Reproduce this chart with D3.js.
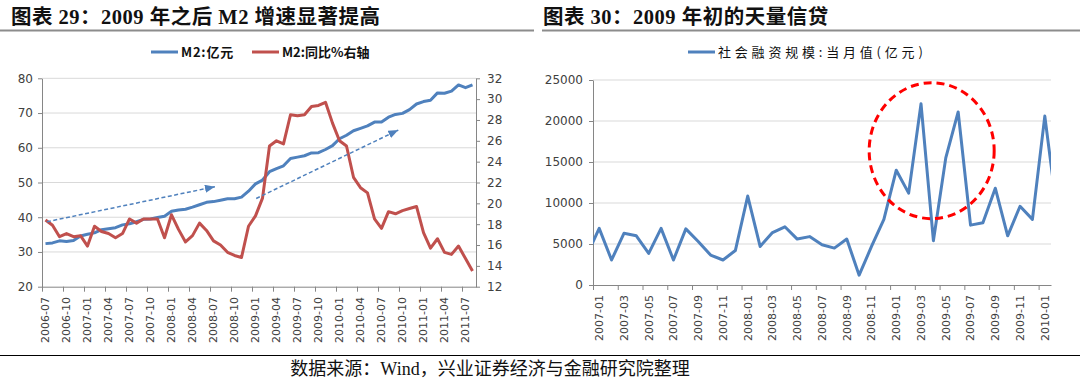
<!DOCTYPE html>
<html><head><meta charset="utf-8">
<script src="https://cdn.jsdelivr.net/npm/d3@7"></script>
<style>
html,body{margin:0;padding:0;background:#fff;}
svg{display:block;}
</style></head>
<body>
<svg id="c" width="1080" height="381"></svg>
<script>
// ---------------- DATA ----------------
const m2Months = ["2006-07","2006-08","2006-09","2006-10","2006-11","2006-12",
"2007-01","2007-02","2007-03","2007-04","2007-05","2007-06","2007-07","2007-08","2007-09","2007-10","2007-11","2007-12",
"2008-01","2008-02","2008-03","2008-04","2008-05","2008-06","2008-07","2008-08","2008-09","2008-10","2008-11","2008-12",
"2009-01","2009-02","2009-03","2009-04","2009-05","2009-06","2009-07","2009-08","2009-09","2009-10","2009-11","2009-12",
"2010-01","2010-02","2010-03","2010-04","2010-05","2010-06","2010-07","2010-08","2010-09","2010-10","2010-11","2010-12",
"2011-01","2011-02","2011-03","2011-04","2011-05","2011-06","2011-07","2011-08"];
const m2Level = [32.4,32.6,33.2,33.0,33.3,34.6,
35.1,35.5,36.4,36.7,37.0,37.8,38.1,38.7,39.4,39.5,39.9,40.3,
41.7,42.1,42.3,42.9,43.6,44.3,44.5,44.9,45.3,45.3,45.8,47.5,
49.6,50.7,53.1,54.0,54.8,56.9,57.3,57.7,58.5,58.6,59.5,60.6,
62.6,63.6,64.9,65.6,66.3,67.4,67.4,68.8,69.6,69.9,71.0,72.6,
73.3,73.7,75.8,75.7,76.3,78.1,77.3,78.1];
const m2Yoy = [18.4,17.9,16.8,17.1,16.8,16.9,
15.9,17.8,17.3,17.1,16.7,17.1,18.5,18.1,18.5,18.5,18.5,16.7,
18.9,17.5,16.3,16.9,18.1,17.4,16.4,16.0,15.3,15.0,14.8,17.8,
18.8,20.5,25.5,26.0,25.7,28.5,28.4,28.5,29.3,29.4,29.7,27.7,
26.0,25.5,22.5,21.5,21.0,18.5,17.6,19.2,19.0,19.3,19.5,19.7,
17.2,15.7,16.6,15.3,15.1,15.9,14.7,13.5];
const m2LeftTicks = [20,30,40,50,60,70,80];
const m2RightTicks = [12,14,16,18,20,22,24,26,28,30,32];
const m2LabelMonths = ["2006-07","2006-10","2007-01","2007-04","2007-07","2007-10","2008-01","2008-04","2008-07","2008-10",
"2009-01","2009-04","2009-07","2009-10","2010-01","2010-04","2010-07","2010-10","2011-01","2011-04","2011-07"];
// trend arrows: [month index, left-axis value]
const m2Arrows = [{from:[0.2,38.7], to:[24.2,48.8]}, {from:[30.1,45.4], to:[50.4,65.1]}];

const tsfMonths = ["2006-12",
"2007-01","2007-02","2007-03","2007-04","2007-05","2007-06","2007-07","2007-08","2007-09","2007-10","2007-11","2007-12",
"2008-01","2008-02","2008-03","2008-04","2008-05","2008-06","2008-07","2008-08","2008-09","2008-10","2008-11","2008-12",
"2009-01","2009-02","2009-03","2009-04","2009-05","2009-06","2009-07","2009-08","2009-09","2009-10","2009-11","2009-12",
"2010-01","2010-02"];
const tsfValues = [3600,
6900,3050,6300,6000,3850,6900,3050,6850,5300,3650,3050,4200,
10850,4700,6400,7100,5600,5900,4900,4500,5600,1200,4700,8000,
14000,11200,22100,5400,15500,21100,7300,7600,11800,6000,9600,8000,
20600,8800];
const tsfTicks = [0,5000,10000,15000,20000,25000];
const tsfLabelMonths = ["2007-01","2007-03","2007-05","2007-07","2007-09","2007-11","2008-01","2008-03","2008-05","2008-07",
"2008-09","2008-11","2009-01","2009-03","2009-05","2009-07","2009-09","2009-11","2010-01"];
// highlight ellipse: centre [month index, value], radius [months, value]
const tsfHighlight = {center:[27.86,16380], radius:[5.05,8290]};

const titleLeft = "图表 29：2009 年之后 M2 增速显著提高";
const titleRight = "图表 30：2009 年初的天量信贷";
const legendLeft = ["M2:亿元","M2:同比%右轴"];
const legendRight = ["社会融资规模:当月值(亿元)"];
const sourceText = "数据来源：Wind，兴业证券经济与金融研究院整理";

// ---------------- STYLE ----------------
const BLUE = "#4F81BD", RED = "#C0504D", GRID = "#D9D9D9", AXIS = "#868686", TXT = "#404040";
const tickFont = "'DejaVu Sans', Verdana, sans-serif";
const cjkFont = "'Liberation Serif','Noto Sans CJK SC',serif";

const svg = d3.select("#c");
const defs = svg.append("defs");

// titles and rules
function title(x, txt){
  svg.append("text").attr("x", x).attr("y", 24).text(txt)
    .attr("font-family", cjkFont).attr("font-size", 20.5).attr("font-weight", "bold").attr("fill", "#111")
    .attr("letter-spacing", 0.5);
}
title(11, titleLeft);
title(543, titleRight);
svg.append("line").attr("x1",0).attr("x2",534).attr("y1",30.5).attr("y2",30.5).attr("stroke","#8c8c8c").attr("stroke-width",2);
svg.append("line").attr("x1",542).attr("x2",1080).attr("y1",30.5).attr("y2",30.5).attr("stroke","#8c8c8c").attr("stroke-width",2);
svg.append("line").attr("x1",0).attr("x2",1080).attr("y1",355.5).attr("y2",355.5).attr("stroke","#000").attr("stroke-width",1);
svg.append("text").attr("x", 490).attr("y", 375).attr("text-anchor","middle").text(sourceText)
  .attr("font-family", cjkFont).attr("font-size", 18).attr("fill", "#111");

function styleAxis(g){
  g.select(".domain").attr("stroke", AXIS);
  g.selectAll(".tick line").attr("stroke", AXIS);
  g.selectAll(".tick text").attr("fill", TXT).attr("font-family", tickFont).attr("font-size", 11);
}

function legendItem(x, y, color, label, bold, spacing){
  svg.append("line").attr("x1", x).attr("x2", x+27).attr("y1", y).attr("y2", y)
     .attr("stroke", color).attr("stroke-width", 3);
  svg.append("text").attr("x", x+30).attr("y", y+4.5).text(label)
     .attr("font-family", "'Noto Sans CJK SC',sans-serif").attr("font-size", 13)
     .attr("font-weight", bold ? "bold" : "normal").attr("fill", "#111").attr("letter-spacing", spacing);
}

// ---------------- LEFT CHART ----------------
{
  const x = d3.scaleLinear().domain([-0.5, m2Months.length - 0.5]).range([42, 476]);
  const yL = d3.scaleLinear().domain([20, 80]).range([286.7, 78.3]);
  const yR = d3.scaleLinear().domain([12, 32]).range([286.7, 78.3]);
  const g = svg.append("g");

  g.selectAll("line.grid").data(m2LeftTicks.slice(1)).join("line")
    .attr("x1", 42).attr("x2", 476).attr("y1", d => yL(d)).attr("y2", d => yL(d))
    .attr("stroke", GRID).attr("stroke-width", 1);

  const ax = g.append("g").attr("transform", "translate(42,0)")
    .call(d3.axisLeft(yL).tickValues(m2LeftTicks).tickSize(4).tickPadding(5).tickSizeOuter(0));
  styleAxis(ax); ax.selectAll(".tick text").attr("font-size", 12);
  const axr = g.append("g").attr("transform", "translate(476,0)")
    .call(d3.axisRight(yR).tickValues(m2RightTicks).tickSize(4).tickPadding(7).tickSizeOuter(0));
  styleAxis(axr); axr.selectAll(".tick text").attr("font-size", 12);

  const labIdx = m2LabelMonths.map(m => m2Months.indexOf(m));
  const axb = g.append("g").attr("transform", "translate(0,286.7)")
    .call(d3.axisBottom(x).tickValues(labIdx.map(i => i - 0.5)).tickSize(5).tickFormat("").tickSizeOuter(0));
  styleAxis(axb);
  g.selectAll("text.xl").data(labIdx).join("text").attr("class","xl")
    .attr("transform", i => `translate(${x(i)},297) rotate(-90)`)
    .attr("text-anchor","end").attr("dy","0.35em").text(i => m2Months[i])
    .attr("fill", TXT).attr("font-family", tickFont).attr("font-size", 11);

  const lineL = d3.line().x((d,i) => x(i)).y(d => yL(d));
  const lineR = d3.line().x((d,i) => x(i)).y(d => yR(d));
  g.append("path").attr("d", lineL(m2Level)).attr("fill","none").attr("stroke", BLUE)
    .attr("stroke-width", 3).attr("stroke-linejoin","round");
  g.append("path").attr("d", lineR(m2Yoy)).attr("fill","none").attr("stroke", RED)
    .attr("stroke-width", 3).attr("stroke-linejoin","round");

  defs.append("marker").attr("id","ah").attr("markerUnits","userSpaceOnUse")
    .attr("markerWidth",11).attr("markerHeight",9).attr("refX",10).attr("refY",4).attr("orient","auto")
    .append("path").attr("d","M0,0L10,4L0,8Z").attr("fill", BLUE);
  g.selectAll("line.arrow").data(m2Arrows).join("line")
    .attr("x1", d => x(d.from[0])).attr("y1", d => yL(d.from[1]))
    .attr("x2", d => x(d.to[0])).attr("y2", d => yL(d.to[1]))
    .attr("stroke", BLUE).attr("stroke-width", 1.5).attr("stroke-dasharray","4,2.5")
    .attr("marker-end","url(#ah)");

  legendItem(151, 52, BLUE, legendLeft[0], true, 0.8);
  legendItem(252, 52, RED, legendLeft[1], true, 0);
}

// ---------------- RIGHT CHART ----------------
{
  const x = d3.scaleLinear().domain([0.5, 37.5]).range([593, 1051]);
  const y = d3.scaleLinear().domain([0, 25000]).range([285, 80]);
  const g = svg.append("g");

  g.selectAll("line.grid").data(tsfTicks.slice(1)).join("line")
    .attr("x1", 593).attr("x2", 1051).attr("y1", d => y(d)).attr("y2", d => y(d))
    .attr("stroke", GRID).attr("stroke-width", 1);

  const ax = g.append("g").attr("transform", "translate(593,0)")
    .call(d3.axisLeft(y).tickValues(tsfTicks).tickFormat(d3.format("d")).tickSize(4).tickPadding(6).tickSizeOuter(0));
  styleAxis(ax); ax.selectAll(".tick text").attr("font-size", 12);

  const labIdx = tsfLabelMonths.map(m => tsfMonths.indexOf(m));
  const axb = g.append("g").attr("transform", "translate(0,285)")
    .call(d3.axisBottom(x).tickValues(labIdx.map(i => i - 0.5)).tickSize(5).tickFormat("").tickSizeOuter(0));
  styleAxis(axb);
  g.selectAll("text.xl").data(labIdx).join("text").attr("class","xl")
    .attr("transform", i => `translate(${x(i)},295) rotate(-90)`)
    .attr("text-anchor","end").attr("dy","0.35em").text(i => tsfMonths[i])
    .attr("fill", TXT).attr("font-family", tickFont).attr("font-size", 11);

  defs.append("clipPath").attr("id","clipR")
    .append("rect").attr("x",593).attr("y",60).attr("width",1051-593).attr("height",230);
  const line = d3.line().x((d,i) => x(i)).y(d => y(d));
  g.append("path").attr("d", line(tsfValues)).attr("clip-path","url(#clipR)")
    .attr("fill","none").attr("stroke", BLUE).attr("stroke-width", 3).attr("stroke-linejoin","round");

  const c = tsfHighlight;
  g.append("ellipse")
    .attr("cx", x(c.center[0])).attr("cy", y(c.center[1]))
    .attr("rx", x(c.center[0] + c.radius[0]) - x(c.center[0]))
    .attr("ry", y(c.center[1] - c.radius[1]) - y(c.center[1]))
    .attr("fill","none").attr("stroke","#FF0000").attr("stroke-width",3).attr("stroke-dasharray","8,5");

  legendItem(688, 52, BLUE, legendRight[0], false, 3.8);
}
</script>
</body></html>
